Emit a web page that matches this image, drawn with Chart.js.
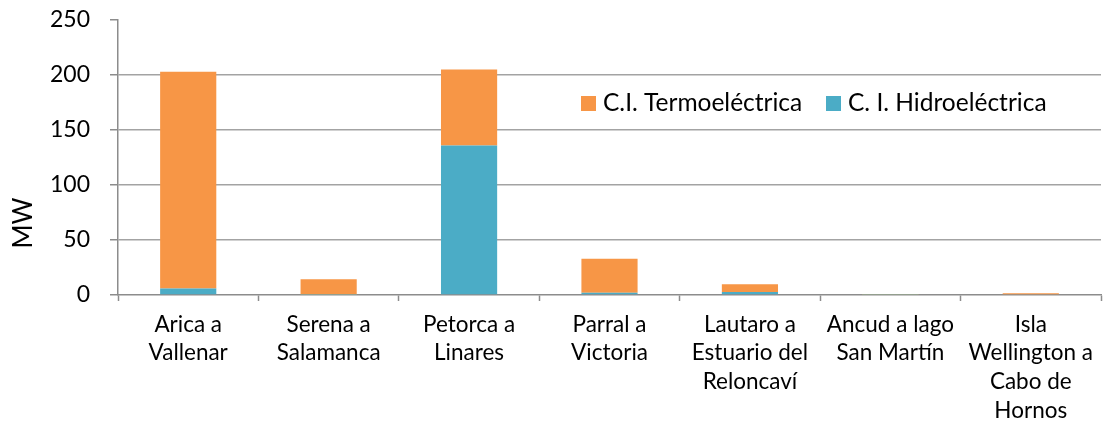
<!DOCTYPE html>
<html>
<head>
<meta charset="utf-8">
<script src="https://cdn.jsdelivr.net/npm/chart.js@4"></script>
<style>
  html, body { margin: 0; padding: 0; background: #fff; }
  #wrap { width: 1103px; height: 421px; }
</style>
</head>
<body>
<div id="wrap"><canvas id="chart"></canvas></div>
<script>
const categories = [
    ['Arica a', 'Vallenar'],
    ['Serena a', 'Salamanca'],
    ['Petorca a', 'Linares'],
    ['Parral a', 'Victoria'],
    ['Lautaro a', 'Estuario del', 'Reloncaví'],
    ['Ancud a lago', 'San Martín'],
    ['Isla', 'Wellington a', 'Cabo de', 'Hornos']
];
const hidroValues = [6, 0.3, 136, 2, 2.7, 0.3, 0];
const termoValues = [197, 14, 69, 31, 7, 0.6, 1.5];
const yTicks = [0, 50, 100, 150, 200, 250];

const FONT = 'Lato, "Open Sans", sans-serif';

// Legend sits inside the plot area, Excel style
const insideLegend = {
    id: 'insideLegend',
    afterDraw(chart) {
        const ctx = chart.ctx;
        const items = [
            { ds: chart.data.datasets[1], box: 581, text: 603 },
            { ds: chart.data.datasets[0], box: 826, text: 848 }
        ];
        ctx.save();
        ctx.font = '24.5px ' + FONT;
        ctx.textBaseline = 'middle';
        items.forEach(it => {
            ctx.fillStyle = it.ds.backgroundColor;
            ctx.fillRect(it.box, 96, 15, 15);
            ctx.fillStyle = '#000';
            ctx.fillText(it.ds.label, it.text, 103);
        });
        // y axis title
        ctx.translate(24, 223);
        ctx.rotate(-Math.PI / 2);
        ctx.textAlign = 'center';
        ctx.textBaseline = 'middle';
        ctx.font = '26px ' + FONT;
        ctx.fillText('MW', 0, 0);
        ctx.restore();
    }
};

new Chart(document.getElementById('chart').getContext('2d'), {
    type: 'bar',
    data: {
        labels: categories,
        datasets: [
            {
                label: 'C. I. Hidroeléctrica',
                data: hidroValues,
                backgroundColor: '#4BACC6',
                barPercentage: 0.4,
                categoryPercentage: 1
            },
            {
                label: 'C.I. Termoeléctrica',
                data: termoValues,
                backgroundColor: '#F79646',
                barPercentage: 0.4,
                categoryPercentage: 1
            }
        ]
    },
    options: {
        responsive: true,
        maintainAspectRatio: false,
        animation: false,
        layout: { padding: { top: 20, right: 2, left: 0, bottom: 0 } },
        plugins: {
            legend: { display: false },
            tooltip: { enabled: false }
        },
        scales: {
            x: {
                stacked: true,
                afterFit: (scale) => { scale.height = 126; },
                grid: {
                    offset: true,
                    drawOnChartArea: false,
                    tickLength: 6,
                    tickColor: '#8c8c8c',
                    tickWidth: 1.5
                },
                border: { color: '#8c8c8c', width: 1.5 },
                ticks: {
                    color: '#000',
                    padding: 9,
                    maxRotation: 0,
                    autoSkip: false,
                    font: { family: FONT, size: 22.5, lineHeight: 1.28 }
                }
            },
            y: {
                stacked: true,
                min: 0,
                max: 250,
                afterFit: (scale) => {
                    scale.width = 118;
                    // tick padding would otherwise push the plot top down
                    scale.paddingTop = 0;
                    scale.paddingBottom = 0;
                },
                afterBuildTicks: (scale) => {
                    scale.ticks = yTicks.map(v => ({ value: v }));
                },
                grid: {
                    color: (c) => (c.tick && (c.tick.value === 0 || c.tick.value === 250)) ? 'rgba(0,0,0,0)' : '#a3a3a3',
                    lineWidth: 1.5,
                    tickLength: 8,
                    tickColor: '#8c8c8c',
                    tickWidth: 1.5
                },
                border: { color: '#8c8c8c', width: 1.5 },
                ticks: {
                    color: '#000',
                    padding: 20,
                    font: { family: FONT, size: 23 }
                }
            }
        }
    },
    plugins: [insideLegend]
});
</script>
</body>
</html>
